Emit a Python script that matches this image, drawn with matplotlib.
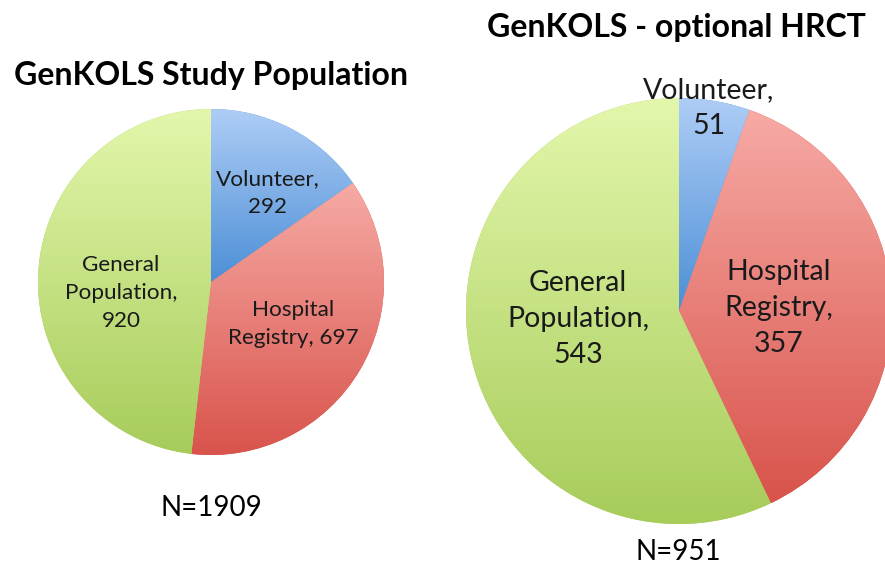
import matplotlib
matplotlib.use('Agg')
import matplotlib.pyplot as plt
import numpy as np
from matplotlib.colors import LinearSegmentedColormap

# data
categories = ['Volunteer', 'Hospital Registry', 'General Population']
study_counts = [292, 697, 920]
hrct_counts = [51, 357, 543]
study_labels = ['Volunteer,\n292', 'Hospital\nRegistry, 697', 'General\nPopulation,\n920']
hrct_labels = ['Volunteer,\n51', 'Hospital\nRegistry,\n357', 'General\nPopulation,\n543']
titles = ['GenKOLS Study Population', 'GenKOLS - optional HRCT']

# gradient colours (top, bottom) per slice
grads = [('#aecdf6', '#4c8fd6'),
         ('#f7aaa5', '#d8534b'),
         ('#e3f7ac', '#a7cc5a')]

plt.rcParams['font.family'] = ['Lato', 'DejaVu Sans']

W, H = 885, 568
fig = plt.figure(figsize=(W/100, H/100), dpi=100)
fig.patch.set_facecolor('white')


def make_axes(cx, cy, r):
    ax = fig.add_axes([(cx - r)/W, (H - cy - r)/H, 2*r/W, 2*r/H])
    ax.set_xlim(-1, 1)
    ax.set_ylim(-1, 1)
    ax.set_aspect('equal')
    ax.axis('off')
    return ax


def gradient_pie(ax, counts, labels, label_pos, fsize, lspace):
    wedges, _ = ax.pie(counts, startangle=90, counterclock=False, radius=1,
                       colors=[g[1] for g in grads],
                       wedgeprops=dict(linewidth=0))
    for w, g in zip(wedges, grads):
        v = w.get_patch_transform().transform(w.get_path().vertices)
        x0, x1 = v[:, 0].min(), v[:, 0].max()
        y0, y1 = v[:, 1].min(), v[:, 1].max()
        cmap = LinearSegmentedColormap.from_list('g', [g[1], g[0]])
        grad = np.linspace(0, 1, 256).reshape(-1, 1)
        im = ax.imshow(grad, cmap=cmap, origin='lower', aspect='auto',
                       extent=[x0, x1, y0, y1], interpolation='bilinear',
                       zorder=2)
        im.set_clip_path(w)
    ax.set_xlim(-1, 1)
    ax.set_ylim(-1, 1)
    for lab, (x, y) in zip(labels, label_pos):
        ax.text(x, y, lab, ha='center', va='center', fontsize=fsize,
                linespacing=lspace, color='#1a1a1a', clip_on=False,
                zorder=5)


# left pie
ax1 = make_axes(211, 282, 173)
gradient_pie(ax1, study_counts, study_labels,
             [(0.327, 0.514), (0.474, -0.243), (-0.52, -0.064)], 16.2, 1.5)

# right pie
ax2 = make_axes(679, 311, 213)
gradient_pie(ax2, hrct_counts, hrct_labels,
             [(0.139, 0.951), (0.47, 0.014), (-0.474, -0.038)], 20.5, 1.47)

fig.text(211/W, 1 - 75/H, titles[0], ha='center', va='center',
         fontsize=23, fontweight='bold', color='black')
fig.text(676/W, 1 - 28/H, titles[1], ha='center', va='center',
         fontsize=23, fontweight='bold', color='black')

fig.text(211/W, 1 - 508/H, 'N=%d' % sum(study_counts), ha='center',
         va='center', fontsize=20, color='black')
fig.text(678/W, 1 - 552/H, 'N=%d' % sum(hrct_counts), ha='center',
         va='center', fontsize=20, color='black')

fig.savefig('out.png', dpi=100, facecolor='white')
